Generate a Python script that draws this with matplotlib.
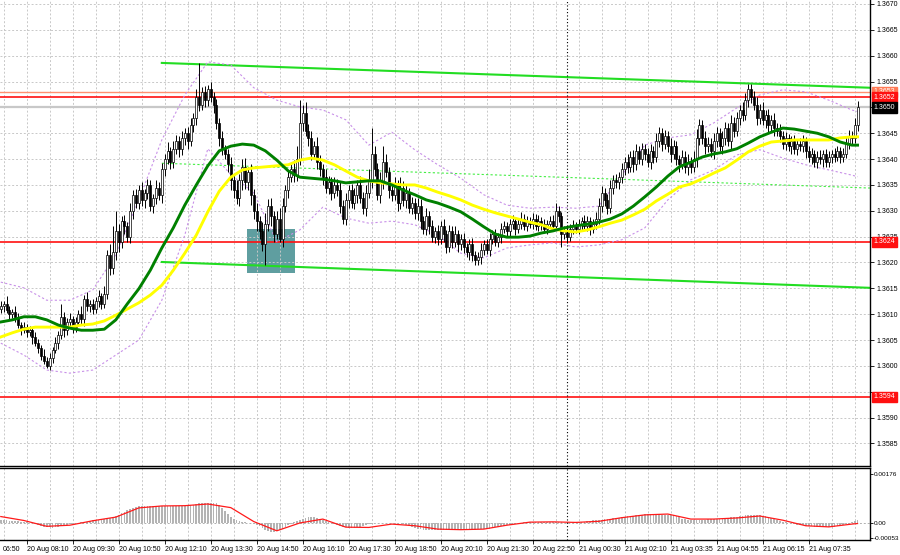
import numpy as np
import matplotlib
matplotlib.use("Agg")
import matplotlib.pyplot as plt
from matplotlib import font_manager
from matplotlib.patches import Rectangle


# narrow font for the small MT4-like labels, if we have one
def pick_font():
    for name in ["Liberation Sans Narrow", "Liberation Sans"]:
        try:
            font_manager.findfont(font_manager.FontProperties(family=name), fallback_to_default=False)
            return name
        except ValueError:
            pass
    return "DejaVu Sans"


FONT = pick_font()
plt.rcParams["font.family"] = [FONT, "DejaVu Sans"]

BASE = 1.3600
PIP = 0.0001

# ---- candles (M5), prices in pips above 1.3600 ----
first_open = 11.0
closes = [
    11.5, 12.0, 10.8, 10.0, 10.5, 9.5, 8.0, 7.0,
    7.5, 6.5, 7.0, 5.5, 4.5, 3.5, 2.0, 1.0,
    0.0, 1.5, 3.0, 4.5, 6.0, 9.5, 7.0, 8.5,
    9.0, 7.5, 8.5, 10.0, 9.0, 13.0, 11.5, 12.0,
    11.0, 12.5, 13.5, 12.0, 14.0, 21.5, 19.0, 22.0,
    26.0, 24.0, 28.0, 27.0, 25.0, 30.0, 33.0, 31.5,
    34.0, 32.0, 33.5, 35.0, 31.0, 32.5, 34.5, 33.0,
    38.0, 40.0, 41.5, 39.5, 42.0, 43.5, 42.0, 44.0,
    45.0, 43.5, 46.5, 48.0, 52.0, 50.5, 53.0, 51.5,
    53.5, 52.0, 50.5, 47.0, 44.0, 42.0, 41.0, 39.0,
    36.0, 34.0, 32.5, 36.0, 38.5, 35.5, 37.5, 33.0,
    30.0, 28.0, 26.0, 23.5, 27.5, 31.0, 29.0, 25.5,
    28.5, 24.5, 31.0, 34.0, 36.5, 38.0, 37.0, 40.0,
    47.0, 49.0, 45.5, 44.0, 41.0, 42.5, 39.5, 38.0,
    36.5, 34.5, 35.5, 33.5, 35.0, 34.0, 31.0, 28.5,
    32.0, 34.0, 31.5, 33.0, 35.0, 32.5, 30.5, 33.5,
    36.0, 41.0, 38.0, 33.0, 35.5, 39.5, 37.5, 34.0,
    33.0, 35.0, 31.5, 34.5, 32.0, 33.5, 30.5, 31.5,
    29.5, 31.0, 28.0, 26.5, 29.0, 27.0, 25.0, 26.0,
    24.5, 27.0, 25.5, 23.0, 26.0, 24.0, 25.5, 23.5,
    24.5, 23.0, 22.0, 23.5, 21.5, 20.5, 21.0, 22.5,
    23.5, 22.5, 24.5, 25.5, 24.0, 25.0, 26.5, 27.0,
    26.0, 27.5, 28.0, 26.5, 27.5, 28.5, 27.0, 28.0,
    27.5, 28.5, 27.0, 28.0, 27.5, 26.5, 27.5, 28.0,
    27.0, 30.0, 29.0, 25.5, 26.0, 25.0, 26.5, 27.0,
    26.5, 27.5, 28.0, 27.0, 28.0, 26.5, 27.5, 28.5,
    31.0, 33.5, 32.0, 30.5, 34.5, 36.0, 35.5, 36.5,
    38.0, 39.5, 38.5, 40.5, 39.0, 41.5, 40.0, 42.0,
    41.0, 39.5, 41.5, 40.5, 43.5, 45.0, 43.0, 44.5,
    42.5, 41.0, 42.5, 40.0, 39.0, 40.5, 38.5, 39.5,
    38.5, 40.0, 44.0, 46.5, 44.0, 42.5, 43.0, 41.5,
    43.5, 45.0, 42.5, 44.0, 46.0, 43.5, 47.0, 45.5,
    48.0, 49.5, 48.5, 51.5, 53.5, 52.0, 50.5, 48.0,
    49.5, 47.5, 48.5, 46.5, 47.5, 46.0, 45.5, 44.5,
    43.0, 44.0, 42.5, 43.5, 42.0, 43.0, 42.5, 43.5,
    41.5, 40.5, 41.0, 39.5, 40.5, 40.0, 41.0, 39.5,
    40.5, 41.0, 40.5, 41.5, 40.5, 41.0, 43.0, 44.5,
    44.0, 46.5, 50.0,
]
wick_up = [
    1.0, 0.5, 1.5, 0.8, 0.5, 1.0, 0.8, 0.5,
    1.0, 0.6, 0.8, 0.5, 1.0, 0.7, 0.5, 1.2,
    0.8, 1.0, 0.6, 1.0, 0.8, 2.5, 1.0, 0.7,
    1.2, 0.6, 1.0, 0.8, 1.5, 0.7, 1.2, 0.8,
    1.0, 0.8, 1.2, 0.6, 1.5, 1.0, 2.0, 5.0,
    4.0, 1.5, 1.0, 1.2, 0.8, 1.5, 1.0, 1.2,
    1.0, 1.5, 0.8, 1.2, 1.0, 0.8, 1.5, 1.0,
    1.2, 1.0, 1.8, 0.8, 1.5, 1.2, 1.0, 1.5,
    1.0, 1.2, 1.5, 1.0, 1.5, 6.6, 1.0, 1.2,
    0.8, 1.5, 1.0, 1.2, 1.0, 1.5, 0.8, 1.0,
    1.5, 1.0, 2.0, 1.2, 1.5, 1.8, 1.0, 1.5,
    1.2, 1.5, 1.0, 1.8, 2.0, 1.2, 1.5, 1.0,
    1.5, 2.0, 1.5, 1.0, 1.2, 1.5, 1.8, 2.5,
    4.4, 1.5, 2.0, 1.2, 1.5, 1.0, 1.8, 1.2,
    1.0, 1.5, 1.2, 1.0, 1.5, 1.2, 1.8, 1.0,
    1.5, 1.0, 1.2, 1.5, 1.0, 1.8, 1.2, 1.5,
    2.0, 5.0, 1.5, 1.2, 2.0, 3.0, 1.5, 1.0,
    1.2, 1.5, 1.0, 2.0, 1.2, 1.5, 1.0, 1.2,
    1.0, 1.5, 1.2, 1.0, 1.5, 1.0, 1.2, 0.8,
    1.2, 1.0, 1.5, 0.8, 1.2, 1.0, 1.5, 0.8,
    1.0, 1.2, 0.8, 1.0, 1.2, 0.8, 1.0, 1.2,
    0.8, 1.0, 1.2, 0.8, 1.0, 0.8, 1.2, 1.0,
    0.8, 1.0, 1.2, 0.8, 1.0, 1.2, 0.8, 1.0,
    0.8, 1.0, 0.8, 1.2, 0.8, 1.0, 0.8, 1.0,
    1.2, 1.5, 1.0, 0.8, 1.0, 0.8, 1.0, 1.2,
    0.8, 1.0, 0.8, 1.2, 1.0, 0.8, 1.0, 1.2,
    1.5, 1.2, 1.0, 1.2, 1.5, 1.0, 1.2, 1.0,
    1.2, 1.0, 1.5, 1.0, 1.2, 1.5, 1.0, 1.2,
    1.0, 1.2, 1.5, 1.0, 1.5, 1.2, 1.0, 1.2,
    1.0, 1.5, 1.2, 1.0, 0.8, 1.2, 1.0, 1.5,
    1.0, 1.5, 1.8, 1.2, 1.0, 1.5, 1.2, 1.0,
    1.5, 1.2, 1.0, 1.5, 1.2, 1.0, 1.5, 1.2,
    1.2, 1.0, 1.5, 1.2, 1.0, 1.0, 1.2, 1.5,
    1.2, 1.5, 1.0, 1.2, 1.0, 1.5, 1.0, 1.2,
    1.0, 1.2, 0.8, 1.0, 1.2, 0.8, 1.0, 1.2,
    0.8, 1.0, 1.2, 0.8, 1.0, 1.2, 0.8, 1.0,
    1.0, 0.8, 1.2, 1.0, 0.8, 1.2, 1.5, 1.2,
    1.0, 1.5, 1.2,
]
wick_dn = [
    0.8, 1.0, 0.6, 1.2, 0.8, 1.0, 0.7, 1.0,
    0.6, 1.0, 0.8, 1.2, 0.6, 1.0, 0.8, 0.6,
    0.5, 0.8, 1.0, 0.6, 1.2, 0.8, 1.5, 1.0,
    0.8, 1.2, 1.0, 0.8, 1.0, 1.2, 0.8, 1.0,
    1.0, 0.8, 1.2, 1.0, 0.8, 1.0, 1.5, 1.2,
    1.5, 2.0, 1.2, 1.5, 1.0, 1.2, 1.5, 1.0,
    1.2, 1.0, 1.5, 1.2, 1.0, 1.5, 1.2, 1.0,
    1.5, 1.2, 1.0, 1.5, 1.2, 1.0, 1.5, 1.2,
    1.2, 1.5, 1.0, 1.2, 1.5, 1.2, 1.0, 1.5,
    1.2, 1.0, 1.5, 1.2, 1.5, 1.2, 1.0, 1.5,
    2.0, 1.5, 1.2, 1.5, 2.0, 1.2, 1.5, 1.8,
    1.5, 2.0, 1.5, 1.2, 4.0, 1.5, 2.0, 1.5,
    1.0, 0.5, 1.5, 1.2, 1.5, 1.0, 1.5, 1.2,
    1.2, 1.5, 1.0, 1.5, 1.2, 1.0, 1.5, 1.2,
    1.5, 1.0, 1.2, 1.5, 1.0, 1.2, 1.5, 1.0,
    1.2, 1.5, 1.0, 1.2, 1.5, 1.0, 1.2, 1.5,
    1.0, 1.5, 1.2, 1.0, 1.5, 1.2, 1.0, 1.5,
    1.2, 1.0, 1.5, 1.2, 1.0, 1.5, 1.0, 1.2,
    1.0, 1.2, 1.5, 1.0, 1.2, 1.5, 1.0, 1.2,
    1.2, 1.0, 1.5, 1.2, 1.0, 1.2, 1.0, 1.5,
    1.0, 1.2, 1.0, 1.5, 1.2, 1.0, 1.0, 1.2,
    1.0, 0.8, 1.2, 1.0, 0.8, 1.0, 1.2, 0.8,
    1.0, 0.8, 1.0, 1.2, 0.8, 1.0, 0.8, 1.0,
    0.8, 1.0, 0.8, 1.0, 1.2, 0.8, 1.0, 0.8,
    1.0, 0.8, 1.2, 2.5, 1.0, 1.2, 0.8, 1.0,
    0.8, 1.0, 1.2, 0.8, 1.0, 1.2, 0.8, 1.0,
    1.0, 1.2, 1.0, 1.2, 1.0, 1.2, 1.0, 1.2,
    1.2, 1.0, 1.2, 1.0, 1.5, 1.2, 1.0, 1.2,
    1.2, 1.0, 1.5, 1.2, 1.0, 1.2, 1.5, 1.0,
    1.2, 1.5, 1.0, 1.2, 1.5, 1.0, 1.2, 1.5,
    1.2, 1.0, 1.5, 1.2, 1.0, 1.5, 1.2, 1.0,
    1.5, 1.2, 1.0, 1.5, 1.2, 1.0, 1.5, 1.2,
    1.0, 1.5, 1.2, 1.0, 1.5, 1.2, 1.0, 1.5,
    1.2, 1.0, 1.5, 1.2, 1.0, 1.5, 1.0, 1.2,
    1.0, 1.2, 1.0, 1.5, 1.0, 1.2, 1.0, 1.2,
    1.2, 1.0, 1.5, 1.0, 1.2, 1.0, 1.5, 1.0,
    1.0, 1.2, 1.0, 0.8, 1.2, 1.0, 0.8, 1.0,
    1.0, 0.8, 1.0,
]

# ---- moving averages, read every 4 bars (pips above 1.3600) ----
ma_bars = list(range(0, 297, 4)) + [298]
ma_green = [
    8.5, 8.9, 9.5, 9.5, 8.9, 7.9, 7.3, 6.9, 6.9, 7.1,
    8.9, 12.0, 14.9, 18.5, 22.8, 26.7, 31.1, 35.0, 38.7, 41.6,
    42.5, 42.9, 42.7, 41.6, 39.8, 37.7, 36.5, 36.3, 36.1, 35.8,
    35.4, 35.6, 35.8, 35.8, 35.0, 34.0, 33.1, 32.1, 31.5, 30.7,
    29.8, 28.4, 26.9, 25.5, 24.9, 24.9, 25.1, 25.7, 26.1, 26.7,
    27.1, 27.4, 27.8, 28.4, 29.4, 30.9, 32.7, 34.6, 36.7, 38.5,
    39.4, 40.4, 41.0, 41.4, 42.0, 43.1, 44.3, 45.2, 46.0, 45.8,
    45.4, 45.0, 44.3, 43.3, 42.7, 42.7,
]
ma_yellow = [
    5.6, 6.4, 7.1, 7.5, 7.5, 7.5, 7.5, 7.9, 8.1, 8.7,
    9.8, 11.0, 12.2, 13.7, 15.6, 18.5, 21.8, 25.3, 29.8, 33.8,
    36.5, 37.9, 38.3, 38.5, 38.7, 38.9, 39.8, 40.2, 39.8, 38.9,
    37.7, 36.5, 35.8, 35.4, 35.2, 35.0, 35.0, 34.4, 33.6, 32.9,
    32.1, 31.1, 30.3, 29.6, 29.0, 28.4, 27.8, 27.3, 26.5, 26.1,
    25.9, 26.3, 26.9, 27.6, 28.2, 29.2, 30.3, 31.9, 33.2, 34.6,
    35.2, 36.2, 37.3, 38.3, 39.8, 41.4, 42.5, 43.3, 43.5, 43.7,
    43.7, 43.7, 43.7, 44.1, 44.3, 44.3,
]

# ---- bollinger bands, read every 8 bars ----
bb_bars = list(range(0, 297, 8)) + [298]
bb_upper = [16.2, 15.1, 12.7, 12.7, 14.7, 21.5, 32.1, 43.7, 52.4, 58.8, 58.2, 53.8, 51.4,
            50.1, 49.5, 47.6, 42.7, 45.2, 41.8, 38.9, 36.3, 33.1, 31.1, 30.5, 30.7,
            30.5, 30.9, 36.9, 42.7, 44.1, 44.7, 47.0, 49.9, 52.4, 53.4, 53.0, 51.4,
            49.5, 49.2]
bb_lower = [4.4, 2.1, -0.8, -1.4, -0.8, 2.1, 5.0, 12.7, 25.3, 42.0, 37.0, 33.5, 24.0,
            26.3, 30.7, 28.6, 27.6, 28.0, 27.3, 25.3, 21.8, 20.9, 22.8, 23.4, 23.8,
            23.0, 23.4, 24.4, 26.7, 32.1, 36.0, 37.9, 40.8, 41.8, 40.2, 38.9, 37.9,
            36.9, 36.6]

# ---- MACD (units of 0.00001) ----
macd_hist = [
    11, 10, 9, 8, 7, 6, 6, 5,
    5, 3, 1, -2, -5, -8, -11, -13,
    -15, -16, -17, -15, -13, -10, -9, -7,
    -5, -3, -2, 0, 2, 4, 5, 7,
    9, 10, 11, 12, 13, 16, 19, 22,
    25, 30, 36, 41, 46, 50, 54, 57,
    60, 61, 61, 60, 61, 60, 61, 61,
    61, 62, 61, 62, 61, 62, 62, 61,
    62, 63, 64, 66, 68, 70, 71, 72,
    72, 73, 72, 70, 64, 55, 44, 32,
    20, 14, 9, 6, 4, 3, 1, 0,
    -2, -6, -12, -18, -24, -29, -32, -31,
    -28, -25, -20, -14, -8, -3, 3, 8,
    11, 15, 18, 21, 22, 21, 19, 16,
    12, 8, 4, 0, -4, -8, -11, -14,
    -16, -18, -18, -17, -15, -13, -10, -7,
    -5, -3, -2, -1, 0, 0, 1, 0,
    0, 1, 0, -1, -3, -6, -10, -14,
    -18, -20, -22, -24, -25, -25, -26, -25,
    -25, -25, -26, -25, -25, -24, -25, -25,
    -25, -24, -25, -24, -23, -24, -23, -22,
    -22, -21, -20, -18, -16, -14, -12, -10,
    -8, -6, -4, -2, 0, 1, 3, 4,
    4, 5, 4, 4, 5, 4, 4, 5,
    4, 4, 3, 2, 1, 0, 1, 1,
    2, 3, 4, 5, 6, 8, 9, 10,
    11, 12, 14, 15, 16, 17, 18, 19,
    20, 22, 24, 25, 26, 28, 29, 30,
    31, 32, 32, 31, 32, 31, 30, 30,
    30, 29, 27, 24, 20, 16, 13, 12,
    11, 11, 12, 11, 12, 12, 13, 13,
    14, 14, 15, 16, 17, 18, 20, 21,
    22, 24, 26, 28, 29, 29, 28, 27,
    27, 26, 25, 22, 18, 14, 10, 7,
    4, 2, 0, -2, -4, -6, -7, -8,
    -10, -11, -12, -13, -14, -14, -14, -15,
    -14, -14, -13, -12, -10, -8, -5, -2,
    2, 6, 11,
]
macd_signal = [23, 9, -12, -8, 8, 21, 54, 61, 62, 68, 55, 5, -28, 0, 14, -15, -16, -4,
               -10, -22, -24, -22, -8, 3, 4, 2, 6, 19, 29, 32, 14, 14, 18, 25, 10, -10,
               -14, -4, -2]

# ---- drawn objects ----
resistance_levels = [1.3653, 1.3652]
support_levels = [1.3624, 1.3594]
bid_price = 1.3650
upper_channel = [(56.0, 1.36586), (302.3, 1.36538)]
mid_channel = [(56.0, 1.36392), (302.3, 1.36344)]
lower_channel = [(56.0, 1.36201), (302.3, 1.36151)]
signal_box = (85.7, 102.3, 1.36180, 1.36265)   # bar from, bar to, low, high
day_break_bar = 197
time_ticks = list(range(9, 290, 16))
time_labels = ["20 Aug 08:10", "20 Aug 09:30", "20 Aug 10:50", "20 Aug 12:10",
               "20 Aug 13:30", "20 Aug 14:50", "20 Aug 16:10", "20 Aug 17:30",
               "20 Aug 18:50", "20 Aug 20:10", "20 Aug 21:30", "20 Aug 22:50",
               "21 Aug 00:30", "21 Aug 02:10", "21 Aug 03:35", "21 Aug 04:55",
               "21 Aug 06:15", "21 Aug 07:35"]
first_label = "06:50"
# price ticks hidden behind the coloured tags on the axis
hidden_ticks = [1.3650, 1.3595]


def to_price(pips):
    return BASE + np.asarray(pips, dtype=float) * PIP


c = to_price(closes)
o = np.concatenate([[to_price(first_open)], c[:-1]])
hi = np.maximum(o, c) + np.asarray(wick_up) * PIP
lo = np.minimum(o, c) - np.asarray(wick_dn) * PIP
x = np.arange(len(c))

fig = plt.figure(figsize=(9, 5.55), dpi=100)
ax = fig.add_axes([0, 1 - 466 / 555, 870 / 900, 466 / 555])
ax2 = fig.add_axes([0, 1 - 540 / 555, 870 / 900, 72 / 555], sharex=ax)

grid_kw = dict(color="#c8c8c8", lw=0.7, ls=(0, (2, 2)), zorder=0.8)
xlo, xhi = -0.28, 302.33
LBL = 5.0

# main panel ---------------------------------------------------------
for gx in range(1, 303, 8):
    ax.axvline(gx, **grid_kw)
    ax2.axvline(gx, **grid_kw)
yticks = np.round(np.arange(1.3585, 1.36701, 0.0005), 4)
for gy in yticks:
    ax.axhline(gy, **grid_kw)

bx0, bx1, by0, by1 = signal_box
ax.add_patch(Rectangle((bx0, by0), bx1 - bx0, by1 - by0, facecolor="#5f9ea0",
                       edgecolor="none", zorder=0.5))

ax.axhline(bid_price, color="#c8c8c8", lw=1.6, zorder=1)
ax.axhline(resistance_levels[0], color="#ff9070", lw=1.0, zorder=1.1)
ax.axhline(resistance_levels[1], color="#ff1010", lw=1.2, zorder=1.1)
for lvl in support_levels:
    ax.axhline(lvl, color="#ff1010", lw=1.2, zorder=1.1)

for line in [upper_channel, lower_channel]:
    ax.plot([p[0] for p in line], [p[1] for p in line], color="#22dd22", lw=1.5, zorder=1.2)
ax.plot([p[0] for p in mid_channel], [p[1] for p in mid_channel], color="#44ee44",
        lw=0.8, ls=(0, (2, 2)), zorder=1.2)

ax.plot(bb_bars, to_price(bb_upper), color="#c890e8", lw=0.8, ls=(0, (2, 2)), zorder=1.3)
ax.plot(bb_bars, to_price(bb_lower), color="#c890e8", lw=0.8, ls=(0, (2, 2)), zorder=1.3)

# candles
bull = c >= o
ax.vlines(x, lo, hi, color="black", lw=0.7, zorder=2)
body_bottom = np.minimum(o, c)
body_h = np.maximum(np.abs(c - o), 0.15 * PIP)
ax.bar(x[bull], body_h[bull], bottom=body_bottom[bull], width=0.7,
       facecolor="white", edgecolor="black", linewidth=0.5, zorder=2.1)
ax.bar(x[~bull], body_h[~bull], bottom=body_bottom[~bull], width=0.7,
       facecolor="black", edgecolor="black", linewidth=0.5, zorder=2.1)

ax.plot(ma_bars, to_price(ma_yellow), color="#ffff00", lw=2.1, zorder=3,
        solid_joinstyle="round")
ax.plot(ma_bars, to_price(ma_green), color="#008000", lw=2.1, zorder=3.1,
        solid_joinstyle="round")

ax.axvline(day_break_bar, color="black", lw=0.8, ls=(0, (1, 2)), zorder=3.2)
ax2.axvline(day_break_bar, color="black", lw=0.8, ls=(0, (1, 2)), zorder=3.2)

ax.set_xlim(xlo, xhi)
ax.set_ylim(BASE - 19.36 * PIP, BASE + 70.77 * PIP)
ax.yaxis.tick_right()
ax.set_yticks(yticks)
ax.set_yticklabels(["" if v in hidden_ticks else f"{v:.4f}" for v in yticks])
ax.tick_params(axis="y", labelsize=LBL, length=3, width=0.6, pad=2, colors="black")
ax.tick_params(axis="x", bottom=False, labelbottom=False)
for s in ["left", "top"]:
    ax.spines[s].set_visible(False)
for s in ["right", "bottom"]:
    ax.spines[s].set_color("black")
    ax.spines[s].set_linewidth(1.0)

# price tags on the axis
tags = [(resistance_levels[0], "#ff7a55"), (resistance_levels[1], "#ff1010"),
        (bid_price, "black"), (support_levels[0], "#ff1010"), (support_levels[1], "#ff1010")]
for price, bg in tags:
    ax.annotate(f"{price:.4f}", xy=(1, price), xycoords=("axes fraction", "data"),
                xytext=(2.5, 0), textcoords="offset points", ha="left", va="center",
                fontsize=LBL, color="white", annotation_clip=False, zorder=10,
                bbox=dict(boxstyle="square,pad=0.25", fc=bg, ec=bg))

# MACD panel ---------------------------------------------------------
ax2.bar(x, np.asarray(macd_hist) * 1e-5, width=0.6, color="#b4b4b4", zorder=2)
ax2.plot(bb_bars, np.asarray(macd_signal) * 1e-5, color="#ff1a1a", lw=0.9, zorder=3)
ax2.axhline(0, color="#b0b0b0", lw=0.7, ls=(0, (2, 2)), zorder=1)
ax2.set_ylim(-0.00061, 0.00197)
ax2.yaxis.tick_right()
ax2.set_yticks([0.00176, 0.0, -0.00053])
ax2.set_yticklabels(["0.00176", "0.00", "-0.00053"])
ax2.tick_params(axis="y", labelsize=4.6, length=2, width=0.6, pad=1)
ax2.set_xticks(time_ticks)
ax2.set_xticklabels(time_labels, ha="left", fontsize=LBL)
ax2.tick_params(axis="x", length=3, width=0.6, pad=1.5)
ax2.annotate(first_label, xy=(0, 0), xycoords="axes fraction", xytext=(2, -4.5),
             textcoords="offset points", ha="left", va="top", fontsize=LBL)
ax2.spines["left"].set_visible(False)
for s in ["right", "bottom", "top"]:
    ax2.spines[s].set_color("black")
    ax2.spines[s].set_linewidth(1.0)

fig.savefig("out.png", dpi=100)
